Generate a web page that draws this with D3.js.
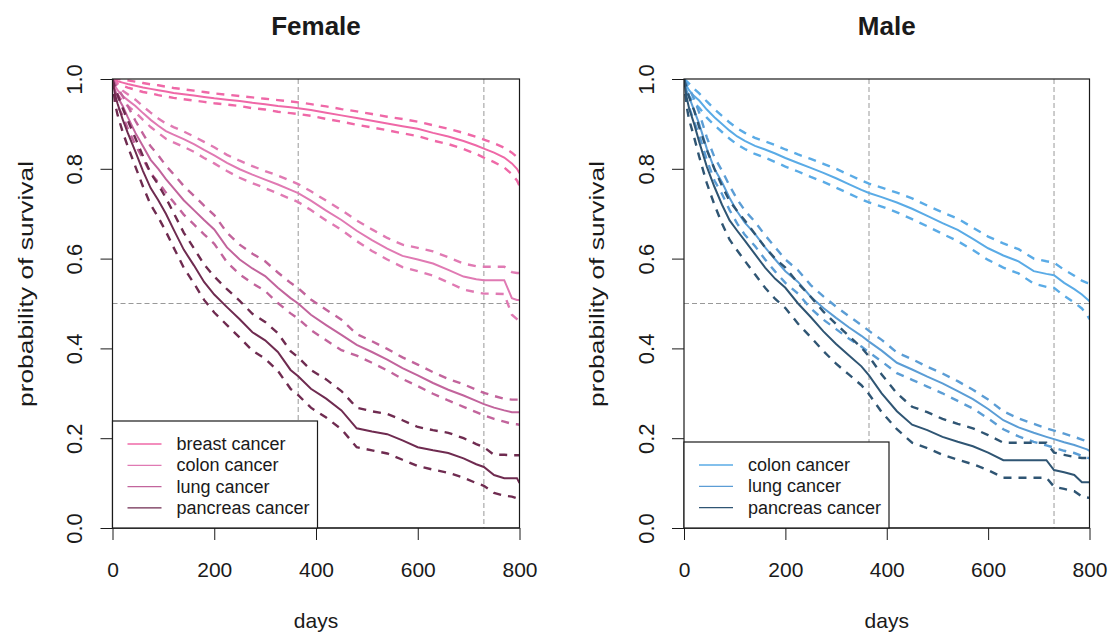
<!DOCTYPE html>
<html>
<head>
<meta charset="utf-8">
<script src="https://cdn.jsdelivr.net/npm/d3@7"></script>
<style>
  body { margin: 0; background: #fff; }
  text { font-family: "Liberation Sans", Arial, sans-serif; fill: #1a1a1a; }
</style>
</head>
<body>
<svg id="chart" width="1109" height="634"></svg>
<script>
// Follow-up times (days) at which the Kaplan-Meier estimates are listed
const days = [0, 5, 10, 20, 30, 45, 60, 75, 90, 105, 120, 140, 160, 180, 200, 225, 250, 275, 300, 325,
              350, 365, 390, 420, 450, 480, 510, 540, 570, 600, 630, 660, 690, 715, 730, 750, 770, 785, 795, 800];

const xTicks = [0, 200, 400, 600, 800];
const yTicks = [0, 0.2, 0.4, 0.6, 0.8, 1.0];
const refDays = [365, 730];
const refSurvival = 0.5;

// ---- Female ----
const femaleGroups = ["breast cancer", "colon cancer", "lung cancer", "pancreas cancer"];
const femaleColors = ["#ef68a7", "#e07ab3", "#c2649c", "#6f2b50"];

const femaleBreast = [1.0, 0.998, 0.995, 0.992, 0.989, 0.985, 0.981, 0.978, 0.975, 0.972, 0.969, 0.966, 0.963, 0.960, 0.957, 0.954, 0.951, 0.947, 0.944, 0.940,
                      0.937, 0.935, 0.931, 0.925, 0.919, 0.913, 0.907, 0.901, 0.895, 0.889, 0.880, 0.872, 0.862, 0.852, 0.845, 0.836, 0.825, 0.812, 0.800, 0.790];
const femaleBreastUpper = [1.0, 1.0, 1.0, 0.999, 0.997, 0.994, 0.991, 0.988, 0.986, 0.983, 0.980, 0.977, 0.974, 0.971, 0.968, 0.965, 0.962, 0.959, 0.956, 0.953,
                           0.950, 0.948, 0.944, 0.939, 0.933, 0.928, 0.922, 0.916, 0.911, 0.905, 0.897, 0.889, 0.880, 0.871, 0.865, 0.857, 0.847, 0.836, 0.826, 0.818];
const femaleBreastLower = [1.0, 0.994, 0.990, 0.985, 0.981, 0.976, 0.971, 0.968, 0.964, 0.961, 0.958, 0.955, 0.952, 0.949, 0.946, 0.943, 0.940, 0.935, 0.932, 0.927,
                           0.924, 0.922, 0.918, 0.911, 0.905, 0.898, 0.892, 0.886, 0.879, 0.873, 0.863, 0.855, 0.844, 0.833, 0.825, 0.815, 0.803, 0.788, 0.774, 0.762];

const femaleColon = [1.0, 0.985, 0.975, 0.962, 0.953, 0.940, 0.924, 0.909, 0.896, 0.884, 0.876, 0.866, 0.855, 0.842, 0.830, 0.813, 0.799, 0.787, 0.776, 0.765,
                     0.753, 0.746, 0.729, 0.707, 0.686, 0.662, 0.641, 0.622, 0.606, 0.598, 0.589, 0.575, 0.560, 0.554, 0.552, 0.552, 0.552, 0.512, 0.508, 0.508];
const femaleColonUpper = [1.0, 0.993, 0.985, 0.974, 0.966, 0.954, 0.939, 0.925, 0.912, 0.901, 0.893, 0.883, 0.872, 0.860, 0.848, 0.831, 0.818, 0.806, 0.795, 0.785,
                          0.773, 0.766, 0.750, 0.729, 0.708, 0.685, 0.665, 0.646, 0.631, 0.624, 0.616, 0.603, 0.589, 0.583, 0.582, 0.582, 0.582, 0.570, 0.568, 0.568];
const femaleColonLower = [1.0, 0.977, 0.965, 0.950, 0.940, 0.926, 0.909, 0.893, 0.880, 0.867, 0.859, 0.849, 0.838, 0.824, 0.812, 0.795, 0.780, 0.768, 0.757, 0.745,
                          0.733, 0.726, 0.708, 0.685, 0.664, 0.639, 0.617, 0.598, 0.581, 0.572, 0.562, 0.547, 0.531, 0.525, 0.522, 0.522, 0.521, 0.475, 0.465, 0.459];

const femaleLung = [1.0, 0.975, 0.960, 0.940, 0.915, 0.880, 0.850, 0.820, 0.800, 0.777, 0.757, 0.730, 0.708, 0.686, 0.665, 0.625, 0.598, 0.578, 0.561, 0.535,
                    0.512, 0.500, 0.475, 0.452, 0.430, 0.408, 0.392, 0.375, 0.356, 0.340, 0.323, 0.308, 0.295, 0.283, 0.276, 0.268, 0.262, 0.258, 0.258, 0.258];
const femaleLungUpper = [1.0, 0.990, 0.980, 0.962, 0.940, 0.907, 0.878, 0.850, 0.830, 0.807, 0.788, 0.762, 0.740, 0.718, 0.697, 0.658, 0.631, 0.611, 0.594, 0.569,
                         0.546, 0.534, 0.509, 0.486, 0.464, 0.432, 0.416, 0.399, 0.380, 0.364, 0.347, 0.332, 0.320, 0.308, 0.301, 0.294, 0.288, 0.286, 0.286, 0.286];
const femaleLungLower = [1.0, 0.960, 0.940, 0.918, 0.890, 0.853, 0.822, 0.790, 0.770, 0.747, 0.726, 0.698, 0.676, 0.654, 0.633, 0.592, 0.565, 0.545, 0.528, 0.501,
                         0.478, 0.466, 0.441, 0.418, 0.396, 0.384, 0.368, 0.351, 0.332, 0.316, 0.299, 0.284, 0.270, 0.258, 0.251, 0.243, 0.237, 0.232, 0.231, 0.230];

const femalePancreas = [1.0, 0.965, 0.945, 0.910, 0.880, 0.838, 0.795, 0.757, 0.730, 0.700, 0.665, 0.620, 0.585, 0.548, 0.520, 0.492, 0.465, 0.436, 0.418, 0.392,
                        0.352, 0.338, 0.310, 0.288, 0.262, 0.222, 0.215, 0.209, 0.195, 0.180, 0.173, 0.167, 0.155, 0.142, 0.136, 0.118, 0.111, 0.111, 0.111, 0.100];
const femalePancreasUpper = [1.0, 0.980, 0.965, 0.935, 0.908, 0.868, 0.828, 0.790, 0.765, 0.735, 0.702, 0.658, 0.623, 0.587, 0.560, 0.532, 0.506, 0.477, 0.459, 0.434,
                             0.394, 0.380, 0.352, 0.331, 0.305, 0.268, 0.260, 0.254, 0.240, 0.225, 0.218, 0.212, 0.200, 0.187, 0.180, 0.163, 0.163, 0.162, 0.162, 0.162];
const femalePancreasLower = [1.0, 0.945, 0.920, 0.882, 0.850, 0.805, 0.760, 0.720, 0.692, 0.660, 0.625, 0.580, 0.545, 0.508, 0.480, 0.452, 0.424, 0.395, 0.377, 0.350,
                             0.310, 0.296, 0.268, 0.246, 0.220, 0.180, 0.173, 0.166, 0.152, 0.138, 0.130, 0.123, 0.112, 0.100, 0.094, 0.078, 0.072, 0.070, 0.066, 0.055];

// ---- Male ----
const maleGroups = ["colon cancer", "lung cancer", "pancreas cancer"];
const maleColors = ["#5aabe6", "#5b9dd5", "#2f5573"];

const maleColon = [1.0, 0.985, 0.975, 0.962, 0.952, 0.932, 0.915, 0.900, 0.885, 0.872, 0.862, 0.851, 0.843, 0.834, 0.824, 0.813, 0.802, 0.791, 0.779, 0.766,
                   0.753, 0.746, 0.737, 0.725, 0.711, 0.695, 0.679, 0.664, 0.644, 0.623, 0.607, 0.594, 0.572, 0.566, 0.563, 0.546, 0.532, 0.520, 0.510, 0.505];
const maleColonUpper = [1.0, 0.995, 0.990, 0.978, 0.968, 0.950, 0.933, 0.918, 0.903, 0.890, 0.880, 0.869, 0.861, 0.853, 0.843, 0.832, 0.822, 0.811, 0.800, 0.787,
                        0.774, 0.767, 0.758, 0.747, 0.734, 0.718, 0.703, 0.689, 0.669, 0.649, 0.634, 0.621, 0.600, 0.594, 0.591, 0.575, 0.562, 0.551, 0.546, 0.545];
const maleColonLower = [1.0, 0.975, 0.962, 0.946, 0.936, 0.914, 0.897, 0.882, 0.867, 0.854, 0.844, 0.833, 0.825, 0.815, 0.805, 0.794, 0.782, 0.771, 0.758, 0.745,
                        0.732, 0.725, 0.716, 0.703, 0.688, 0.672, 0.655, 0.639, 0.619, 0.597, 0.580, 0.567, 0.544, 0.537, 0.535, 0.517, 0.502, 0.489, 0.475, 0.465];

const maleLung = [1.0, 0.975, 0.960, 0.930, 0.900, 0.845, 0.800, 0.770, 0.735, 0.705, 0.680, 0.655, 0.625, 0.598, 0.572, 0.548, 0.515, 0.490, 0.468, 0.447,
                  0.428, 0.415, 0.395, 0.368, 0.353, 0.337, 0.322, 0.305, 0.287, 0.265, 0.240, 0.224, 0.212, 0.203, 0.198, 0.191, 0.185, 0.179, 0.175, 0.172];
const maleLungUpper = [1.0, 0.990, 0.980, 0.955, 0.925, 0.870, 0.826, 0.796, 0.762, 0.732, 0.707, 0.682, 0.652, 0.625, 0.598, 0.574, 0.541, 0.516, 0.493, 0.472,
                       0.452, 0.439, 0.419, 0.391, 0.376, 0.359, 0.344, 0.327, 0.308, 0.286, 0.260, 0.244, 0.232, 0.222, 0.217, 0.210, 0.203, 0.197, 0.193, 0.190];
const maleLungLower = [1.0, 0.955, 0.937, 0.905, 0.875, 0.820, 0.774, 0.744, 0.708, 0.678, 0.653, 0.628, 0.598, 0.571, 0.546, 0.522, 0.489, 0.464, 0.443, 0.422,
                       0.404, 0.391, 0.371, 0.345, 0.330, 0.315, 0.300, 0.283, 0.266, 0.244, 0.220, 0.204, 0.192, 0.184, 0.179, 0.172, 0.167, 0.161, 0.157, 0.155];

const malePancreas = [1.0, 0.960, 0.935, 0.900, 0.860, 0.805, 0.760, 0.720, 0.685, 0.662, 0.640, 0.610, 0.580, 0.555, 0.535, 0.500, 0.470, 0.438, 0.410, 0.385,
                      0.360, 0.340, 0.300, 0.260, 0.230, 0.218, 0.203, 0.192, 0.182, 0.168, 0.151, 0.151, 0.151, 0.151, 0.129, 0.124, 0.118, 0.102, 0.102, 0.102];
const malePancreasUpper = [1.0, 0.980, 0.960, 0.930, 0.893, 0.842, 0.800, 0.762, 0.728, 0.706, 0.685, 0.655, 0.625, 0.600, 0.580, 0.545, 0.515, 0.482, 0.454, 0.428,
                           0.402, 0.382, 0.342, 0.300, 0.270, 0.258, 0.243, 0.232, 0.222, 0.207, 0.190, 0.190, 0.190, 0.190, 0.168, 0.163, 0.158, 0.156, 0.156, 0.156];
const malePancreasLower = [1.0, 0.940, 0.910, 0.870, 0.827, 0.768, 0.720, 0.678, 0.642, 0.618, 0.595, 0.565, 0.535, 0.510, 0.490, 0.455, 0.425, 0.394, 0.366, 0.342,
                           0.318, 0.298, 0.258, 0.220, 0.190, 0.178, 0.163, 0.152, 0.142, 0.129, 0.112, 0.112, 0.112, 0.112, 0.092, 0.087, 0.082, 0.070, 0.068, 0.067];

const panels = [
  {
    id: "female", title: "Female", left: 112.5, right: 519.5, legendTop: 421,
    series: [
      { name: femaleGroups[0], color: femaleColors[0], surv: femaleBreast, upper: femaleBreastUpper, lower: femaleBreastLower },
      { name: femaleGroups[1], color: femaleColors[1], surv: femaleColon, upper: femaleColonUpper, lower: femaleColonLower },
      { name: femaleGroups[2], color: femaleColors[2], surv: femaleLung, upper: femaleLungUpper, lower: femaleLungLower },
      { name: femaleGroups[3], color: femaleColors[3], surv: femalePancreas, upper: femalePancreasUpper, lower: femalePancreasLower }
    ]
  },
  {
    id: "male", title: "Male", left: 684, right: 1089.5, legendTop: 442,
    series: [
      { name: maleGroups[0], color: maleColors[0], surv: maleColon, upper: maleColonUpper, lower: maleColonLower },
      { name: maleGroups[1], color: maleColors[1], surv: maleLung, upper: maleLungUpper, lower: maleLungLower },
      { name: maleGroups[2], color: maleColors[2], surv: malePancreas, upper: malePancreasUpper, lower: malePancreasLower }
    ]
  }
];

const plotTop = 79, plotBottom = 528;
const svg = d3.select("#chart");

panels.forEach(p => {
  const x = d3.scaleLinear().domain([0, 800]).range([p.left, p.right]);
  const y = d3.scaleLinear().domain([0, 1]).range([plotBottom, plotTop]);
  const g = svg.append("g");

  g.append("clipPath").attr("id", "clip-" + p.id)
    .append("rect").attr("x", p.left).attr("y", plotTop)
    .attr("width", p.right - p.left).attr("height", plotBottom - plotTop);

  // reference lines: one and two years, median survival
  const ref = g.append("g").attr("clip-path", `url(#clip-${p.id})`)
    .attr("stroke", "#999").attr("stroke-width", 1).attr("stroke-dasharray", "5,3");
  refDays.forEach(d => ref.append("line").attr("x1", x(d)).attr("x2", x(d)).attr("y1", plotTop).attr("y2", plotBottom));
  ref.append("line").attr("x1", p.left).attr("x2", p.right).attr("y1", y(refSurvival)).attr("y2", y(refSurvival));

  // survival curves with confidence limits
  const curves = g.append("g").attr("clip-path", `url(#clip-${p.id})`);
  const line = arr => d3.line().x((d, i) => x(days[i])).y(d => y(d))(arr);
  p.series.forEach(s => {
    [s.upper, s.lower].forEach(ci => curves.append("path").attr("d", line(ci)).attr("fill", "none")
      .attr("stroke", s.color).attr("stroke-width", 2.4).attr("stroke-dasharray", "8,7"));
    curves.append("path").attr("d", line(s.surv)).attr("fill", "none")
      .attr("stroke", s.color).attr("stroke-width", 2);
  });

  // axes
  const xAxis = g.append("g").attr("transform", `translate(0,${plotBottom})`)
    .call(d3.axisBottom(x).tickValues(xTicks).tickFormat(d3.format("d")).tickSize(12).tickSizeOuter(0).tickPadding(22));
  xAxis.selectAll("text").style("font-size", "21px").attr("fill", "#1a1a1a");

  const yAxis = g.append("g").attr("transform", `translate(${p.left},0)`)
    .call(d3.axisLeft(y).tickValues(yTicks).tickFormat(d3.format(".1f")).tickSize(12).tickSizeOuter(0));
  yAxis.selectAll("text")
    .attr("transform", "rotate(-90)").attr("x", 0).attr("y", -30.5).attr("dy", 0)
    .style("text-anchor", "middle").style("font-size", "22px").attr("fill", "#1a1a1a");
  [xAxis, yAxis].forEach(a => { a.selectAll("path, line").attr("stroke", "#1a1a1a"); a.select(".domain").remove(); });
  g.append("line").attr("x1", p.left).attr("x2", p.right).attr("y1", plotBottom).attr("y2", plotBottom).attr("stroke", "#1a1a1a");

  // box around the plotting region
  g.append("rect").attr("x", p.left).attr("y", plotTop)
    .attr("width", p.right - p.left).attr("height", plotBottom - plotTop)
    .attr("fill", "none").attr("stroke", "#1a1a1a").attr("stroke-width", 1.2);

  // labels
  const cx = (p.left + p.right) / 2;
  g.append("text").attr("x", cx).attr("y", 35).attr("text-anchor", "middle")
    .style("font-size", "26px").style("font-weight", "bold").text(p.title);
  g.append("text").attr("x", cx).attr("y", 628).attr("text-anchor", "middle")
    .style("font-size", "21px").text("days");
  g.append("text").attr("transform", `translate(${p.left - 80},284) rotate(-90)`)
    .attr("text-anchor", "middle").style("font-size", "21px")
    .attr("textLength", 246).attr("lengthAdjust", "spacingAndGlyphs")
    .text("probability of survival");

  // legend
  const lg = g.append("g");
  lg.append("rect").attr("x", p.left).attr("y", p.legendTop)
    .attr("width", 205).attr("height", plotBottom - p.legendTop)
    .attr("fill", "#fff").attr("stroke", "#1a1a1a").attr("stroke-width", 1.2);
  p.series.forEach((s, i) => {
    const ry = p.legendTop + 23 + i * 21.3;
    lg.append("line").attr("x1", p.left + 15).attr("x2", p.left + 49)
      .attr("y1", ry).attr("y2", ry).attr("stroke", s.color).attr("stroke-width", 1.3);
    lg.append("text").attr("x", p.left + 64).attr("y", ry + 6)
      .style("font-size", "18px").attr("fill", "#333").text(s.name);
  });
});
</script>
</body>
</html>
